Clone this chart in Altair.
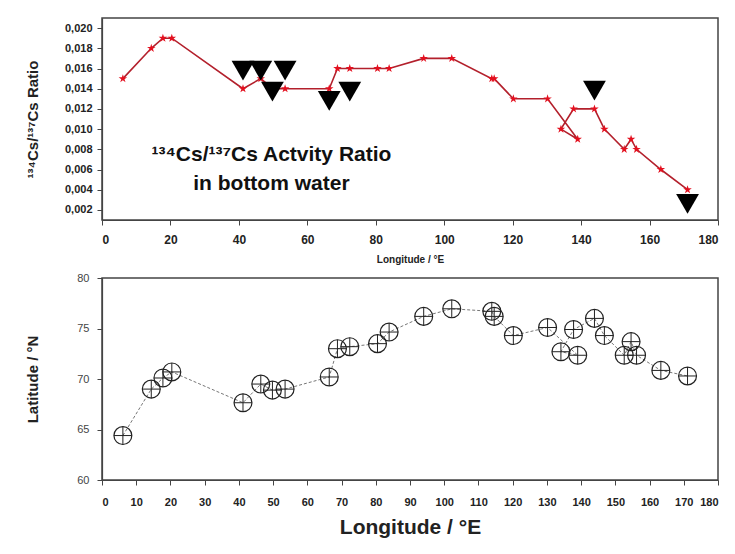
import altair as alt
import pandas as pd

# Station longitudes (°E) in sampling order
lon = [6.1, 14.4, 17.8, 20.4, 41.2, 46.4, 49.8, 53.5, 66.4, 68.8, 72.4, 80.5, 83.9,
       94.0, 102.2, 113.9, 114.6, 120.2, 130.2, 139.0, 134.1, 137.8, 143.9, 146.8,
       152.6, 154.6, 156.2, 163.3, 171.1]
# 134Cs/137Cs activity ratio in bottom water
ratio = [0.015, 0.018, 0.019, 0.019, 0.014, 0.015, 0.014, 0.014, 0.014, 0.016, 0.016,
         0.016, 0.016, 0.017, 0.017, 0.015, 0.015, 0.013, 0.013, 0.009, 0.010, 0.012,
         0.012, 0.010, 0.008, 0.009, 0.008, 0.006, 0.004]
# Station latitudes (°N)
lat = [64.4, 69.0, 70.1, 70.7, 67.65, 69.5, 68.9, 69.0, 70.2, 73.0, 73.2, 73.5, 74.65,
       76.2, 76.95, 76.7, 76.2, 74.3, 75.1, 72.35, 72.7, 74.9, 76.0, 74.3, 72.35, 73.7,
       72.35, 70.85, 70.3]
# Detection-limit markers (down triangles)
tri_lon = [41.2, 46.4, 53.5, 49.8, 66.4, 72.4, 143.9, 171.1]
tri_val = [0.0158, 0.0158, 0.0158, 0.0137, 0.0128, 0.0137, 0.0138, 0.0026]
# Annotation
note_text = ["¹³⁴Cs/¹³⁷Cs Actvity Ratio", "in bottom water"]
note_lon = [49.5, 49.5]
note_val = [0.0074, 0.0046]

top_x_ticks = list(range(0, 181, 20))
top_y_ticks = [0.002, 0.004, 0.006, 0.008, 0.010, 0.012, 0.014, 0.016, 0.018, 0.020]
bot_x_ticks = list(range(0, 181, 10))
bot_y_ticks = [60, 65, 70, 75, 80]

FONT = "Liberation Sans"
STAR = ("M0,-1L0.2245,-0.309L0.9511,-0.309L0.3633,0.118L0.5878,0.809L0,0.382"
        "L-0.5878,0.809L-0.3633,0.118L-0.9511,-0.309L-0.2245,-0.309Z")
CROSS = "M-1,0L1,0M0,-1L0,1"

stations = pd.DataFrame({"lon": lon, "ratio": ratio, "lat": lat,
                         "order": list(range(len(lon)))})
tri_df = pd.DataFrame({"lon": tri_lon, "ratio": tri_val})
note_df = pd.DataFrame({"lon": note_lon, "ratio": note_val, "text": note_text})

W, H = 616, 202

xt = alt.X("lon:Q", scale=alt.Scale(domain=[0, 180], nice=False, zero=False),
           axis=alt.Axis(values=top_x_ticks, tickCount=30, format="d", title="Longitude / °E",
                         titleFontSize=10, titleFontWeight="bold", labelFontSize=12,
                         labelFontWeight="bold", labelPadding=9, tickSize=5, titlePadding=9,
                         grid=False, labelOverlap=False, labelColor="#222", titleColor="#222"))
yt = alt.Y("ratio:Q", scale=alt.Scale(domain=[0.001, 0.021], nice=False, zero=False),
           axis=alt.Axis(values=top_y_ticks, tickCount=30,
                         labelExpr="replace(format(datum.value, '.3f'), '.', ',')",
                         title="¹³⁴Cs/¹³⁷Cs Ratio", titleFontSize=15, titleFontWeight="bold",
                         labelFontSize=11, labelFontWeight="bold", labelPadding=5,
                         labelOverlap=False, tickSize=5, grid=False, titleX=-62, titleY=H / 2,
                         labelColor="#222", titleColor="#222"))

top_line = alt.Chart(stations).mark_line(color="#b3202c", strokeWidth=1.6).encode(
    x=xt, y=yt, order="order:Q")
top_stars = alt.Chart(stations).mark_point(
    shape=STAR, filled=True, color="#e3101f", size=80, opacity=1).encode(
    x="lon:Q", y="ratio:Q")
top_tri = alt.Chart(tri_df).mark_point(
    shape="triangle-down", filled=True, color="black", size=520, opacity=1).encode(
    x="lon:Q", y="ratio:Q")
top_note = alt.Chart(note_df).mark_text(
    font=FONT, fontSize=21, fontWeight="bold", color="#111").encode(
    x="lon:Q", y="ratio:Q", text="text:N")

top = alt.layer(top_line, top_stars, top_tri, top_note).properties(width=W, height=H)

xb = alt.X("lon:Q", scale=alt.Scale(domain=[0, 180], nice=False, zero=False),
           axis=alt.Axis(values=bot_x_ticks, tickCount=30, format="d", title="Longitude / °E",
                         titleFontSize=21, titleFontWeight="bold", labelFontSize=11,
                         labelFontWeight="bold", labelPadding=11, tickSize=5, titlePadding=9,
                         grid=False, labelOverlap=False, labelColor="#222", titleColor="#222"))
yb = alt.Y("lat:Q", scale=alt.Scale(domain=[60, 80], nice=False, zero=False),
           axis=alt.Axis(values=bot_y_ticks, tickCount=30, format="d", title="Latitude / °N",
                         titleFontSize=15, titleFontWeight="bold", labelFontSize=11,
                         labelPadding=8, labelOverlap=False, tickSize=5, grid=False,
                         titleX=-62, titleY=H / 2, labelColor="#444", titleColor="#222"))

bot_line = alt.Chart(stations).mark_line(
    color="#666", strokeWidth=0.9, strokeDash=[3, 2]).encode(x=xb, y=yb, order="order:Q")
bot_circ = alt.Chart(stations).mark_point(
    shape="circle", filled=False, color="#222", size=320, strokeWidth=1.2, opacity=1).encode(
    x="lon:Q", y="lat:Q")
bot_cross = alt.Chart(stations).mark_point(
    shape=CROSS, filled=False, color="#222", size=320, strokeWidth=1.0, opacity=1).encode(
    x="lon:Q", y="lat:Q")

bottom = alt.layer(bot_line, bot_circ, bot_cross).properties(width=W, height=H)

chart = alt.vconcat(top, bottom, spacing=6).properties(
    padding={"left": 24, "top": 17, "right": 10, "bottom": 5}
).configure(font=FONT).configure_view(
    stroke="#444", strokeWidth=1.5
).configure_axis(domainColor="#444", tickColor="#444", domainWidth=1.2)

chart.save("out.html", embed_options={"renderer": "svg", "actions": False})
